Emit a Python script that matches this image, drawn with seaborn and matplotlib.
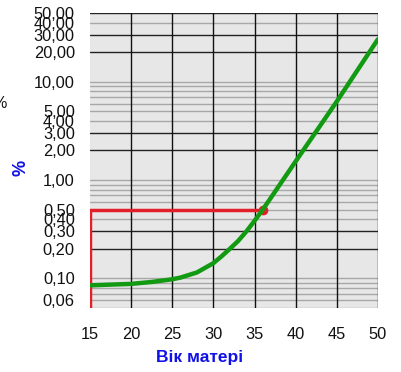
import numpy as np
import pandas as pd
import matplotlib
matplotlib.use("Agg")
import matplotlib.pyplot as plt
import seaborn as sns

# curve: risk (%) vs mother's age
ages = [15, 20, 22.5, 25, 26, 28, 30, 31, 32, 33, 34, 35, 36, 40, 45, 50]
risk = [0.085, 0.088, 0.092, 0.098, 0.102, 0.115, 0.143, 0.168, 0.2, 0.24,
        0.3, 0.385, 0.5, 1.55, 6.3, 27.0]

# red guide at age 36
guide_x = [15, 15, 36]
guide_y = [0.05, 0.5, 0.5]

y_ticks = [0.06, 0.1, 0.2, 0.3, 0.4, 0.5, 1, 2, 3, 4, 5, 10, 20, 30, 40, 50]
y_labels = ["0,06", "0,10", "0,20", "0,30", "0,40", "0,50", "1,00", "2,00", "3,00",
            "4,00", "5,00", "10,00", "20,00", "30,00", "40,00", "50,00"]
x_ticks = [15, 20, 25, 30, 35, 40, 45, 50]

dark_grid = [0.2, 0.3, 2, 3, 20, 30, 50]
light_grid = [0.05, 0.06, 0.07, 0.08, 0.09, 0.1, 0.4, 0.5, 0.6, 0.7, 0.8, 0.9, 1,
              4, 5, 6, 7, 8, 9, 10, 40]

sns.set_style("white", {"axes.facecolor": "#e7e7e7"})
plt.rcParams['font.family'] = ['Liberation Sans', 'DejaVu Sans']

fig = plt.figure(figsize=(4.02, 3.72), dpi=100)
ax = fig.add_axes([0.224, 0.172, 0.716, 0.793])
ax.set_yscale("log")
ax.set_xlim(15, 50)
ax.set_ylim(0.05, 50)

for v in light_grid:
    ax.axhline(v, color="#a8a8a8", lw=1.0, zorder=1)
for v in dark_grid:
    ax.axhline(v, color="#222222", lw=1.0, zorder=1)
for v in x_ticks[1:]:
    ax.axvline(v, color="#111111", lw=1.0, zorder=1)

df = pd.DataFrame({"age": ages, "risk": risk})
sns.lineplot(data=df, x="age", y="risk", ax=ax, color="#139a13", lw=3.2, zorder=4)

ax.plot(guide_x, guide_y, color="#e3202a", lw=2.5, zorder=3, solid_capstyle="butt")
ax.plot(guide_x[-1:], guide_y[-1:], "o", color="#e3202a", ms=6, zorder=3)

ax.set_yticks(y_ticks)
ax.set_yticklabels(y_labels)
ax.minorticks_off()
ax.set_xticks(x_ticks)
ax.tick_params(axis="both", length=0, labelsize=11.8, colors="#111111")
ax.tick_params(axis="y", pad=11)
ax.tick_params(axis="x", pad=14)
for s in ax.spines.values():
    s.set_visible(False)
ax.set_xlabel("")
ax.set_ylabel("")

fig.text(0.497, 0.038, "Вік матері", color="#1010e8", fontsize=12.5,
         fontweight="bold", ha="center", va="center")
fig.text(0.052, 0.548, "%", color="#1010e8", fontsize=13, fontweight="bold",
         rotation=90, ha="center", va="center")
fig.text(0.018, 0.723, "%", color="#111111", fontsize=11.5, ha="right", va="center")

fig.savefig("out.png", dpi=100)
